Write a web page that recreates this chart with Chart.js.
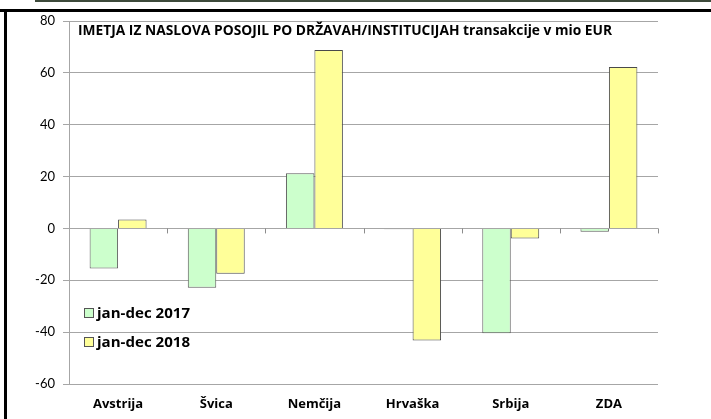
<!DOCTYPE html>
<html>
<head>
<meta charset="utf-8">
<script src="https://cdn.jsdelivr.net/npm/chart.js@4"></script>
<style>
html,body{margin:0;padding:0;background:#fff;}
#wrap{position:relative;width:711px;height:419px;overflow:hidden;}
#topline{position:absolute;left:35px;top:0;width:676px;height:2px;background:#3d4a3b;}
#frameTop{position:absolute;left:0;top:9px;width:711px;height:3px;background:#000;}
#frameLeft{position:absolute;left:4px;top:9px;width:3px;height:410px;background:#000;}
canvas{position:absolute;left:0;top:0;}
</style>
</head>
<body>
<div id="wrap">
<canvas id="c" width="711" height="419"></canvas>
<div id="topline"></div>
<div id="frameTop"></div>
<div id="frameLeft"></div>
</div>
<script>
const categories = ['Avstrija', 'Švica', 'Nemčija', 'Hrvaška', 'Srbija', 'ZDA'];
const series2017 = [-15.5, -22.9, 21.3, -0.3, -40.4, -1.3];
const series2018 = [3.4, -17.5, 68.8, -43.2, -3.9, 62.3];
const seriesNames = ['jan-dec 2017', 'jan-dec 2018'];
const yTicks = [-60, -40, -20, 0, 20, 40, 60, 80];
const chartTitle = 'IMETJA IZ NASLOVA POSOJIL PO DRŽAVAH/INSTITUCIJAH transakcije v mio EUR';

const FONT = 'Lato, "Liberation Sans", sans-serif';
const BOLD = '"Open Sans", "Liberation Sans", sans-serif';

const overlay = {
  id: 'overlay',
  afterDraw(chart) {
    const ctx = chart.ctx;
    const a = chart.chartArea;
    const y = chart.scales.y;
    ctx.save();
    const y0 = y.getPixelForValue(0);
    ctx.strokeStyle = '#8c8c8c';
    ctx.lineWidth = 1;
    const n = categories.length;
    const w = (a.right - a.left) / n;
    for (let i = 1; i <= n; i++) {
      const px = Math.round(a.left + i * w) + 0.5;
      ctx.beginPath();
      ctx.moveTo(px, y0);
      ctx.lineTo(px, y0 + 5);
      ctx.stroke();
    }
    // title
    ctx.fillStyle = '#000';
    ctx.font = 'bold 14px ' + BOLD;
    ctx.textBaseline = 'alphabetic';
    ctx.textAlign = 'left';
    const target = 534;
    const mw = ctx.measureText(chartTitle).width;
    ctx.save();
    ctx.translate(a.left + 9, a.top + 14);
    ctx.scale(target / mw, 1);
    ctx.fillText(chartTitle, 0, 0);
    ctx.restore();
    // legend
    const ds = chart.data.datasets;
    const ly = [313, 342];
    ctx.textBaseline = 'middle';
    ds.forEach((d, i) => {
      ctx.fillStyle = d.backgroundColor;
      ctx.fillRect(84.5, ly[i] - 4.5, 9, 9);
      ctx.strokeStyle = '#555';
      ctx.strokeRect(84.5, ly[i] - 4.5, 9, 9);
      ctx.fillStyle = '#000';
      ctx.font = 'bold 14px ' + BOLD;
      const tw = ctx.measureText(d.label).width;
      ctx.save();
      ctx.translate(97, ly[i] + 1);
      ctx.scale(93 / tw, 1);
      ctx.fillText(d.label, 0, 0);
      ctx.restore();
    });
    ctx.restore();
  }
};

new Chart(document.getElementById('c'), {
  type: 'bar',
  data: {
    labels: categories,
    datasets: [
      { label: seriesNames[0], data: series2017, backgroundColor: '#ccffcc', borderColor: '#5a5a5a', borderWidth: 1 },
      { label: seriesNames[1], data: series2018, backgroundColor: '#ffff99', borderColor: '#4a4a4a', borderWidth: 1 }
    ]
  },
  options: {
    responsive: false,
    animation: false,
    devicePixelRatio: 1,
    layout: { padding: { left: 0, right: 53, top: 21, bottom: 0 } },
    datasets: { bar: { categoryPercentage: 0.58, barPercentage: 1.0 } },
    plugins: { legend: { display: false }, title: { display: false }, tooltip: { enabled: false } },
    scales: {
      x: {
        grid: { display: false, drawTicks: false },
        border: { display: false },
        ticks: { color: '#000', font: { family: BOLD, size: 13, weight: 'bold' }, padding: 12, maxRotation: 0 },
        afterFit(s) { s.height = 35; }
      },
      y: {
        min: -60, max: 80,
        afterBuildTicks(s) { s.ticks = yTicks.map(v => ({ value: v })); },
        grid: { color: '#a6a6a6', tickLength: 6, drawTicks: true, tickColor: '#a6a6a6' },
        border: { display: true, color: '#a6a6a6' },
        ticks: { color: '#000', font: { family: FONT, size: 13 }, padding: 8 },
        afterFit(s) { s.width = 69; }
      }
    }
  },
  plugins: [overlay]
});
</script>
</body>
</html>
